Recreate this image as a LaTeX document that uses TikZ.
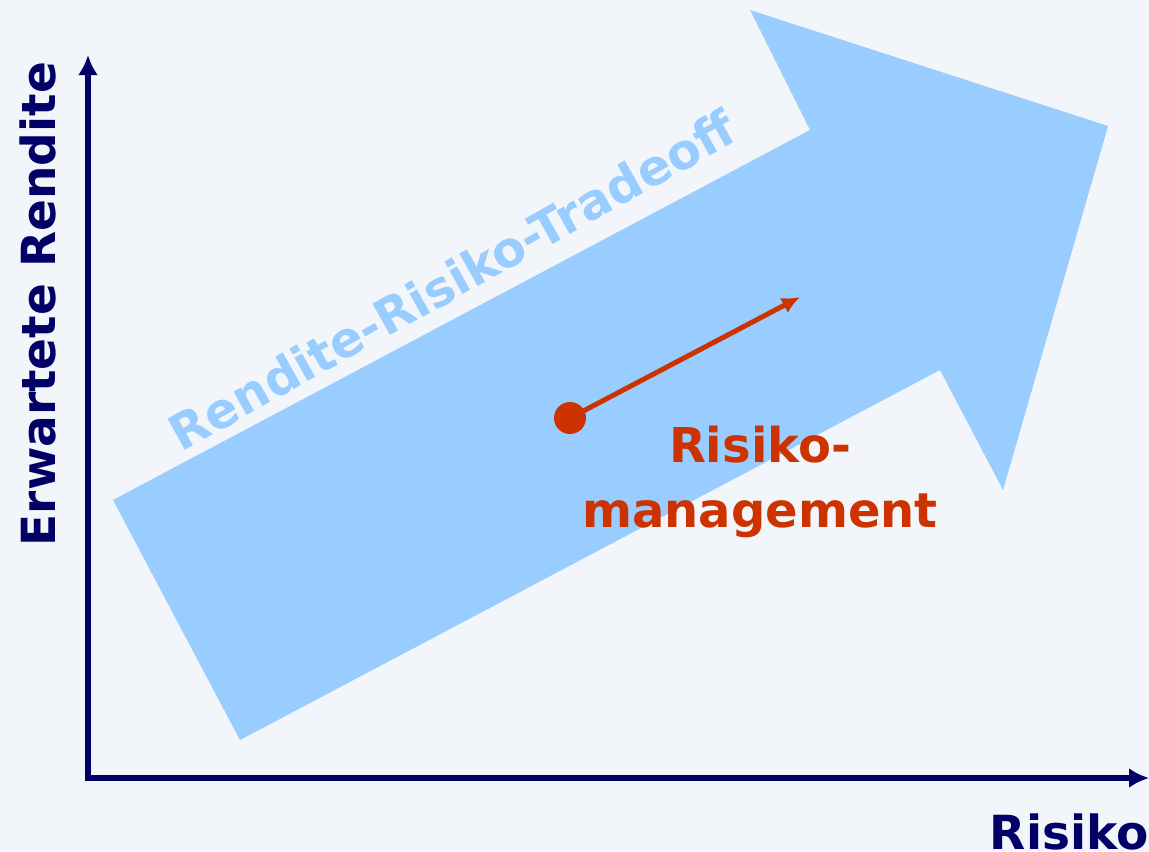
\documentclass[tikz,border=0pt]{standalone}
\usepackage{fontspec}
\setmainfont{DejaVu Sans}
\usetikzlibrary{arrows.meta}
\definecolor{bg}{HTML}{F2F5F9}
\definecolor{navy}{HTML}{000066}
\definecolor{lblue}{HTML}{99CCFF}
\definecolor{rred}{HTML}{CC3300}
\tikzset{
  axis/.style={draw=navy, line width=3pt, -{Latex[length=10pt,width=10pt]}},
  bigarrow/.style={fill=lblue, draw=none},
  redarrow/.style={draw=rred, line width=2.5pt, -{Latex[length=9pt,width=8.5pt]}},
  lbl/.style={font=\bfseries\fontsize{23.5}{28}\selectfont, inner sep=0pt},
}
\begin{document}
\begin{tikzpicture}[x=0.5pt,y=-0.5pt]
\fill[bg] (0,0) rectangle (1149,851);
\useasboundingbox (0,0) rectangle (1149,851);
% big arrow
\fill[bigarrow] (113,500) -- (810,130) -- (750,10) -- (1108,126) -- (1003,490) -- (940,370) -- (240,740) -- cycle;
% axes
\coordinate (O) at (88,778);
\coordinate (Ytop) at (88,55);
\coordinate (Xend) at (1149,778);
\draw[axis] ([yshift=-1.5pt]O) -- (Ytop);
\draw[axis] ([xshift=-1.5pt]O) -- (Xend);
% labels
\node[lbl, text=navy, rotate=90] (ylab) at (38,304) {Erwartete Rendite};
\node[lbl, text=navy, anchor=south east] (xlab) at (1149,851) {Risiko};
\node[lbl, text=lblue, rotate=29.3, font=\bfseries\fontsize{24.5}{28}\selectfont] (trade) at (452,280) {Rendite-Risiko-Tradeoff};
% risk management
\node[circle, fill=rred, minimum size=16pt, inner sep=0pt] (dot) at (570,418) {};
\coordinate (rend) at (800,297);
\draw[redarrow] (dot.center) -- (rend);
\node[lbl, text=rred, align=center, font=\bfseries\fontsize{24}{32.5}\selectfont] (rm) at (760,482) {Risiko-\\management};
\end{tikzpicture}
\end{document}
